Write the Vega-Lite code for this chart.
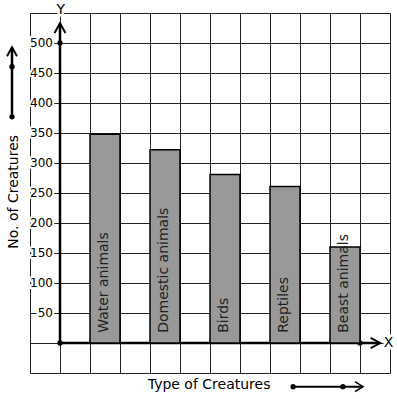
{
  "$schema": "https://vega.github.io/schema/vega-lite/v6.json",
  "width": 360,
  "height": 360,
  "autosize": {"type": "none"},
  "padding": {"left": 30, "top": 13, "right": 7, "bottom": 26},
  "background": "white",
  "config": {
    "view": {"stroke": null},
    "font": "DejaVu Sans",
    "text": {"font": "DejaVu Sans"},
    "axis": {"labels": false, "ticks": false, "domain": false, "titleOpacity": 0, "grid": false, "gridColor": "#222222", "gridOpacity": 1, "gridWidth": 1}
  },
  "datasets": {
    "creatures": [
      {"type": "Water animals", "count": 348},
      {"type": "Domestic animals", "count": 322},
      {"type": "Birds", "count": 281},
      {"type": "Reptiles", "count": 261},
      {"type": "Beast animals", "count": 160}
    ],
    "ticks": [
      {"v": 50}, {"v": 100}, {"v": 150}, {"v": 200}, {"v": 250},
      {"v": 300}, {"v": 350}, {"v": 400}, {"v": 450}, {"v": 500}
    ]
  },
  "layer": [
    {
      "data": {"values": [{}]},
      "layer": [
        {
          "data": {"name": "ticks"},
          "mark": {"type": "text", "align": "right", "baseline": "middle", "dx": -7, "fontSize": 12, "stroke": "white", "strokeWidth": 4, "fill": "white"},
          "encoding": {
            "x": {"datum": 0, "type": "quantitative", "title": null,
                  "scale": {"domain": [-1, 11], "nice": false, "zero": false},
                  "axis": {"values": [-1, 0, 1, 2, 3, 4, 5, 6, 7, 8, 9, 10, 11], "tickCount": 30, "grid": true, "labels": false, "ticks": false, "domain": false, "title": null}},
            "y": {"field": "v", "type": "quantitative", "title": null,
                  "scale": {"domain": [-50, 550], "nice": false, "zero": false},
                  "axis": {"values": [-50, 0, 50, 100, 150, 200, 250, 300, 350, 400, 450, 500, 550], "tickCount": 30, "grid": true, "labels": false, "ticks": false, "domain": false, "title": null}},
            "text": {"field": "v"}
          }
        },
        {
          "data": {"name": "ticks"},
          "mark": {"type": "text", "align": "right", "baseline": "middle", "dx": -7, "fontSize": 12, "fill": "black"},
          "encoding": {
            "x": {"datum": 0, "type": "quantitative", "title": null},
            "y": {"field": "v", "type": "quantitative", "title": null},
            "text": {"field": "v"}
          }
        },
        {
          "mark": {"type": "rule", "stroke": "black", "strokeWidth": 2.5},
          "encoding": {"x": {"datum": 0}, "y": {"datum": 0}, "y2": {"datum": 533}}
        },
        {
          "mark": {"type": "rule", "stroke": "black", "strokeWidth": 2.5},
          "encoding": {"x": {"datum": 0}, "x2": {"datum": 10.67}, "y": {"datum": 0}}
        },
        {
          "mark": {"type": "rule", "stroke": "black", "strokeWidth": 2.5},
          "encoding": {"x": {"datum": -1.6}, "y": {"datum": 377}, "y2": {"datum": 493}}
        },
        {
          "mark": {"type": "rule", "stroke": "black", "strokeWidth": 2},
          "encoding": {"x": {"datum": 7.77}, "x2": {"datum": 10.1}, "y": {"datum": -72.8}}
        },
        {
          "mark": {"type": "point", "shape": "M-1,1.8L0,0L1,1.8", "filled": false, "stroke": "black", "strokeWidth": 2, "size": 121, "opacity": 1},
          "encoding": {"x": {"datum": 0}, "y": {"datum": 533}}
        },
        {
          "mark": {"type": "point", "shape": "M-1,1.8L0,0L1,1.8", "filled": false, "stroke": "black", "strokeWidth": 2, "size": 100, "opacity": 1},
          "encoding": {"x": {"datum": -1.6}, "y": {"datum": 493}}
        },
        {
          "mark": {"type": "point", "shape": "M-1,1.8L0,0L1,1.8", "filled": false, "stroke": "black", "strokeWidth": 2, "size": 110, "opacity": 1, "angle": 90},
          "encoding": {"x": {"datum": 10.67}, "y": {"datum": 0}}
        },
        {
          "mark": {"type": "point", "shape": "M-1,1.6L0,0L1,1.6", "filled": false, "stroke": "black", "strokeWidth": 1.5, "size": 100, "opacity": 1, "angle": 90},
          "encoding": {"x": {"datum": 10.1}, "y": {"datum": -72.8}}
        },
        {
          "mark": {"type": "circle", "fill": "black", "size": 28, "opacity": 1},
          "encoding": {"x": {"datum": 0}, "y": {"datum": 0}}
        },
        {
          "mark": {"type": "circle", "fill": "black", "size": 28, "opacity": 1},
          "encoding": {"x": {"datum": 0}, "y": {"datum": 500}}
        },
        {
          "mark": {"type": "circle", "fill": "black", "size": 28, "opacity": 1},
          "encoding": {"x": {"datum": 10}, "y": {"datum": 0}}
        },
        {
          "mark": {"type": "circle", "fill": "black", "size": 28, "opacity": 1},
          "encoding": {"x": {"datum": -1.6}, "y": {"datum": 377}}
        },
        {
          "mark": {"type": "circle", "fill": "black", "size": 28, "opacity": 1},
          "encoding": {"x": {"datum": -1.6}, "y": {"datum": 460.5}}
        },
        {
          "mark": {"type": "circle", "fill": "black", "size": 28, "opacity": 1},
          "encoding": {"x": {"datum": 7.77}, "y": {"datum": -72.8}}
        },
        {
          "mark": {"type": "circle", "fill": "black", "size": 28, "opacity": 1},
          "encoding": {"x": {"datum": 9.43}, "y": {"datum": -72.8}}
        },
        {
          "mark": {"type": "text", "align": "center", "baseline": "middle", "fontSize": 14, "stroke": "white", "strokeWidth": 5, "fill": "white", "text": "Y"},
          "encoding": {"x": {"datum": 0.03}, "y": {"datum": 555}}
        },
        {
          "mark": {"type": "text", "align": "center", "baseline": "middle", "fontSize": 14, "fill": "black", "text": "Y"},
          "encoding": {"x": {"datum": 0.03}, "y": {"datum": 555}}
        },
        {
          "mark": {"type": "text", "align": "center", "baseline": "middle", "fontSize": 14, "stroke": "white", "strokeWidth": 5, "fill": "white", "text": "X"},
          "encoding": {"x": {"datum": 10.95}, "y": {"datum": 0}}
        },
        {
          "mark": {"type": "text", "align": "center", "baseline": "middle", "fontSize": 14, "fill": "black", "text": "X"},
          "encoding": {"x": {"datum": 10.95}, "y": {"datum": 0}}
        },
        {
          "mark": {"type": "text", "align": "center", "baseline": "middle", "fontSize": 14, "fill": "black", "angle": 270, "text": "No. of Creatures"},
          "encoding": {"x": {"datum": -1.55}, "y": {"datum": 252}}
        },
        {
          "mark": {"type": "text", "align": "center", "baseline": "middle", "fontSize": 14, "fill": "black", "text": "Type of Creatures"},
          "encoding": {"x": {"datum": 4.97}, "y": {"datum": -70}}
        }
      ]
    },
    {
      "data": {"name": "creatures"},
      "layer": [
        {
          "mark": {"type": "bar", "fill": "#999999", "stroke": "black", "strokeWidth": 1.5},
          "encoding": {
            "x": {"field": "type", "type": "nominal", "sort": null, "axis": null,
                  "scale": {"paddingInner": 0.5, "paddingOuter": 0.75, "align": 0.6667}},
            "y": {"field": "count", "type": "quantitative", "title": null},
            "y2": {"datum": 0}
          }
        },
        {
          "mark": {"type": "text", "align": "left", "baseline": "middle", "fontSize": 14, "fill": "#222222", "angle": 270, "dy": -1},
          "encoding": {
            "x": {"field": "type", "type": "nominal", "sort": null, "axis": null},
            "y": {"datum": 17},
            "text": {"field": "type"}
          }
        }
      ]
    }
  ],
  "resolve": {"scale": {"x": "independent"}, "axis": {"x": "independent"}}
}
